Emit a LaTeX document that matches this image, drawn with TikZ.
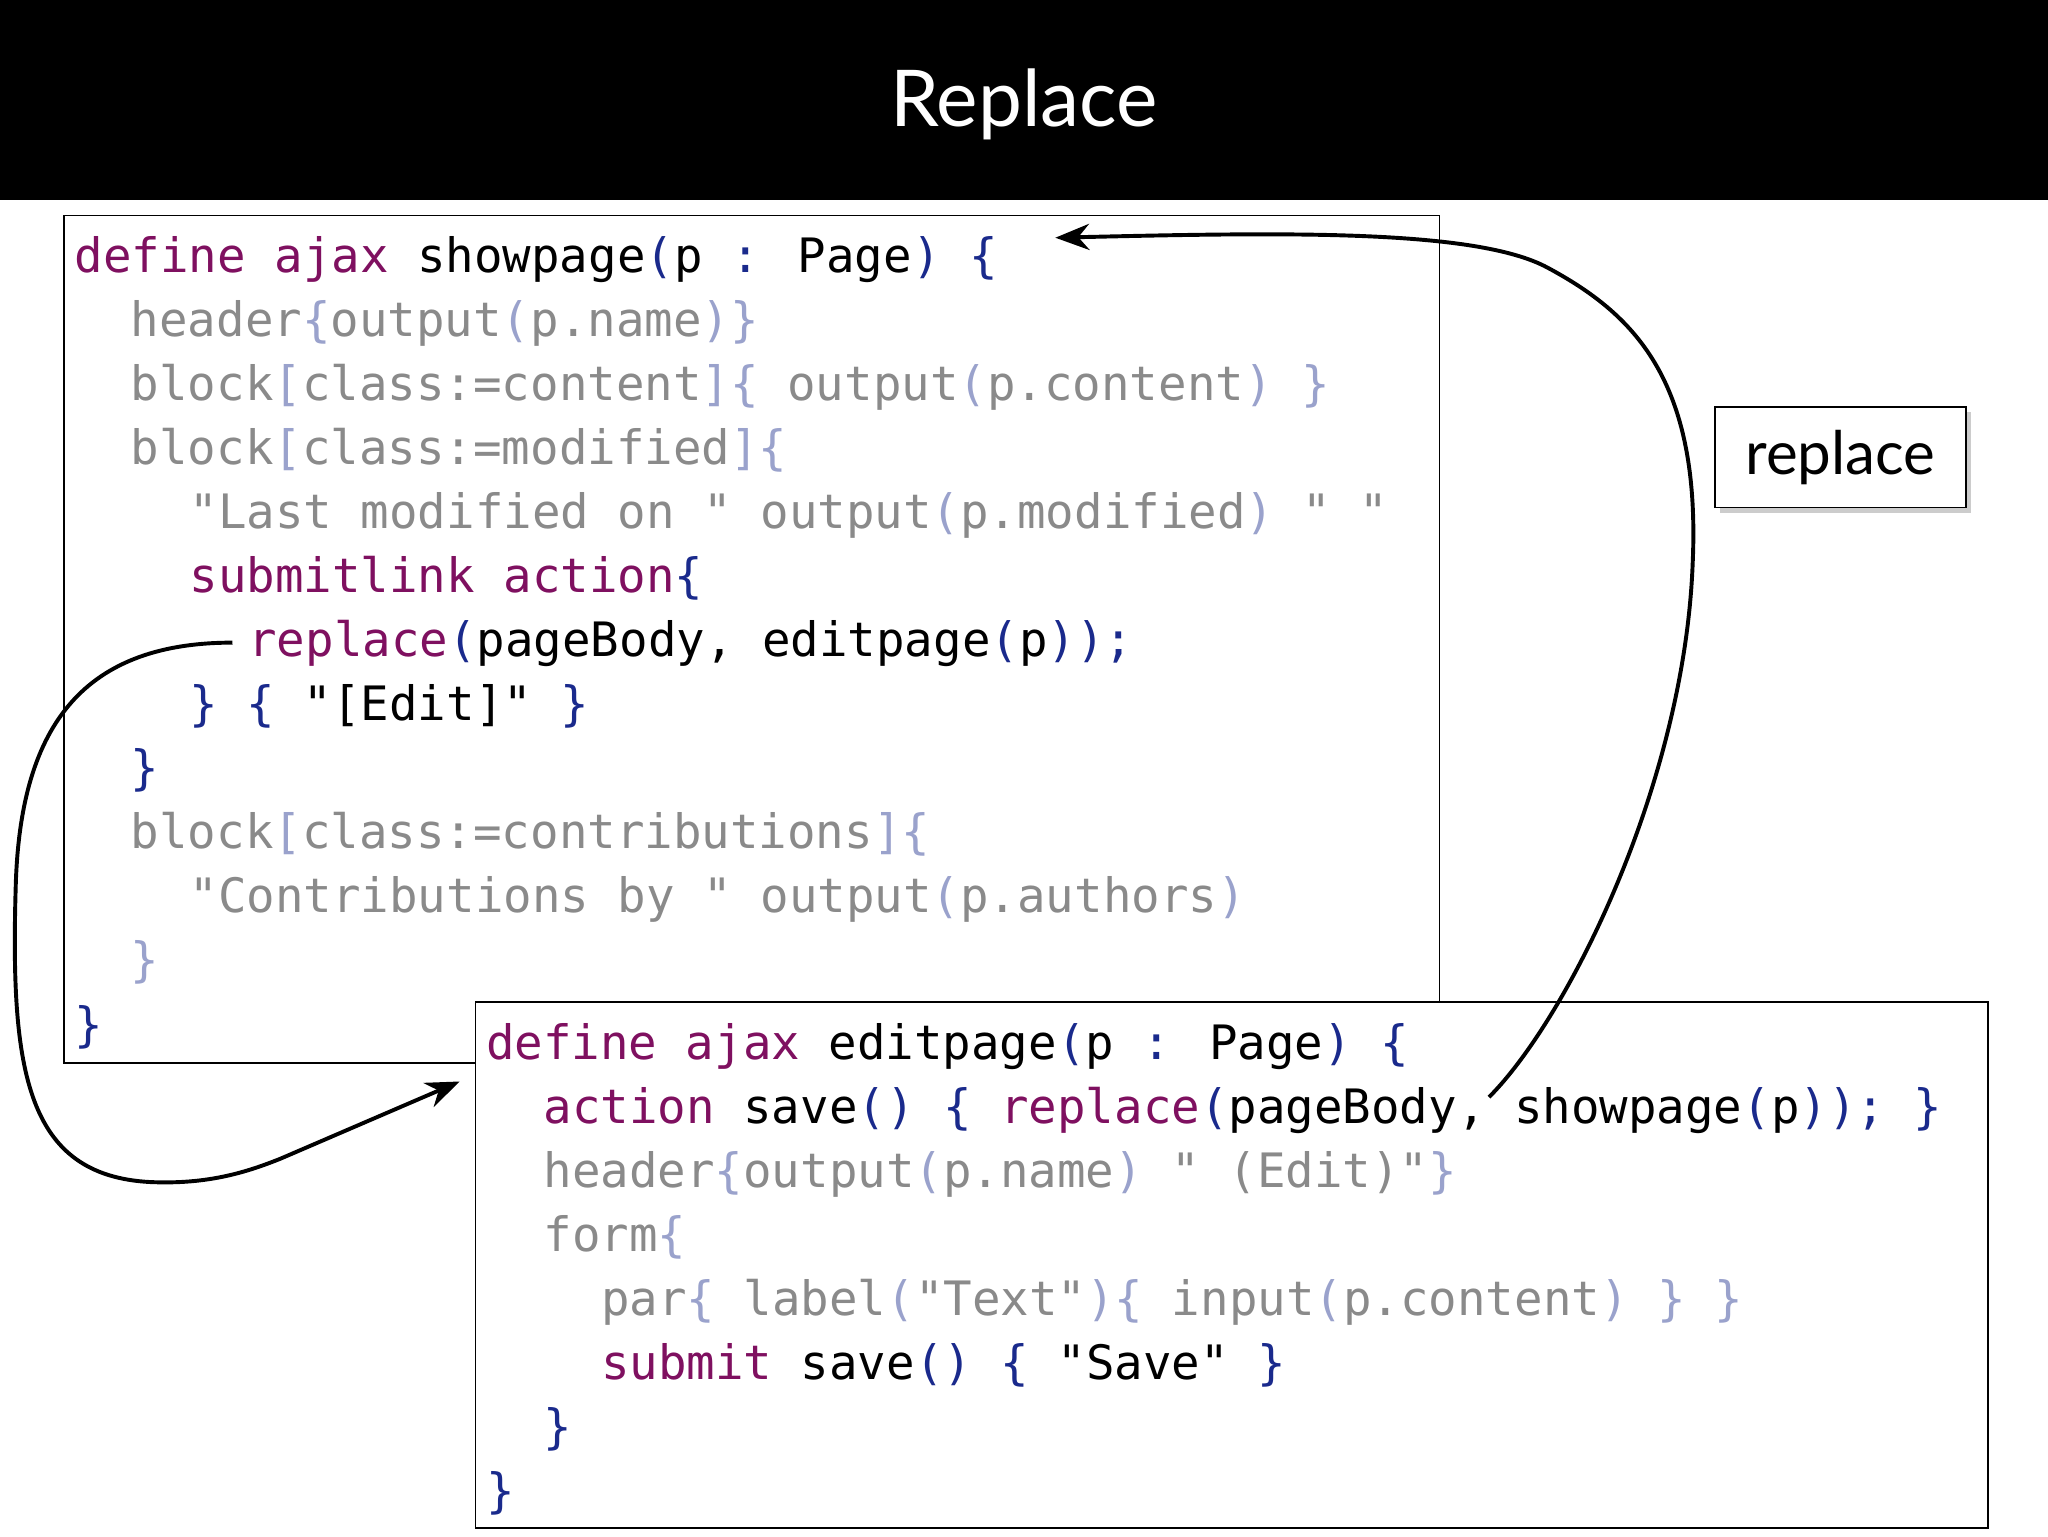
\documentclass[tikz,border=0pt]{standalone}
\usepackage{fontspec}
\setmainfont{Lato}
\newfontfamily\codefont{DejaVu Sans Mono}
\usetikzlibrary{arrows.meta,shadows}
\definecolor{kwc}{HTML}{7F1060}
\definecolor{dbc}{HTML}{1A2A8C}
\definecolor{grc}{HTML}{8A8A8A}
\definecolor{lbc}{HTML}{9AA2CC}
\newcommand{\kw}[1]{\textcolor{kwc}{#1}}
\newcommand{\db}[1]{\textcolor{dbc}{#1}}
\newcommand{\gr}[1]{\textcolor{grc}{#1}}
\newcommand{\lb}[1]{\textcolor{lbc}{#1}}
\tikzset{code/.style={anchor=west,inner sep=0pt,yshift=-4pt,font=\codefont\fontsize{36.3}{40}\selectfont,text height=26pt,text depth=8pt},
 box/.style={draw=black,line width=1.2pt,fill=white},
 conn/.style={line width=3pt,-{Stealth[length=26pt,width=20pt]}}}
\begin{document}
\begin{tikzpicture}[x=1pt,y=-1pt]
\useasboundingbox (0,0) rectangle (1568,1176);
\fill[black] (0,0) rectangle (1568,153);
\node[white,font=\fontsize{60}{70}\selectfont] (title) at (784,80) {Replace};
\draw[box] (49,165) rectangle (1102,814);
\node[code] (a1) at (57,196) {\kw{define ajax} showpage\db{(}p \db{:} Page\db{)} \db{\{}};
\node[code] (a2) at (100,245) {\gr{header}\lb{\{}\gr{output}\lb{(}\gr{p.name}\lb{)\}}};
\node[code] (a3) at (100,294) {\gr{block}\lb{[}\gr{class:=content}\lb{]\{} \gr{output}\lb{(}\gr{p.content}\lb{)} \lb{\}}};
\node[code] (a4) at (100,343) {\gr{block}\lb{[}\gr{class:=modified}\lb{]\{}};
\node[code] (a5) at (145,392) {\gr{"Last modified on " output}\lb{(}\gr{p.modified}\lb{)} \gr{" "}};
\node[code] (a6) at (145,441) {\kw{submitlink action}\db{\{}};
\node[code] (a7) at (190,490) {\kw{replace}\db{(}pageBody, editpage\db{(}p\db{));}};
\node[code] (a8) at (145,539) {\db{\}} \db{\{} "[Edit]" \db{\}}};
\node[code] (a9) at (100,588) {\db{\}}};
\node[code] (a10) at (100,637) {\gr{block}\lb{[}\gr{class:=contributions}\lb{]\{}};
\node[code] (a11) at (145,686) {\gr{"Contributions by " output}\lb{(}\gr{p.authors}\lb{)}};
\node[code] (a12) at (100,735) {\lb{\}}};
\node[code] (a13) at (57,784) {\db{\}}};
\draw[box] (364,767) rectangle (1522,1170);
\node[code] (b1) at (372,798) {\kw{define ajax} editpage\db{(}p \db{:} Page\db{)} \db{\{}};
\node[code] (b2) at (416,847) {\kw{action} save\db{()} \db{\{} \kw{replace}\db{(}pageBody, showpage\db{(}p\db{));} \db{\}}};
\node[code] (b3) at (416,896) {\gr{header}\lb{\{}\gr{output}\lb{(}\gr{p.name}\lb{)} \gr{" (Edit)"}\lb{\}}};
\node[code] (b4) at (416,945) {\gr{form}\lb{\{}};
\node[code] (b5) at (460,994) {\gr{par}\lb{\{} \gr{label}\lb{(}\gr{"Text"}\lb{)\{} \gr{input}\lb{(}\gr{p.content}\lb{)} \lb{\}} \lb{\}}};
\node[code] (b6) at (460,1043) {\kw{submit} save\db{()} \db{\{} "Save" \db{\}}};
\node[code] (b7) at (416,1092) {\db{\}}};
\node[code] (b8) at (372,1141) {\db{\}}};
\node[draw=black,line width=1.2pt,fill=white,drop shadow={shadow xshift=4pt,shadow yshift=-4pt,opacity=0.4},minimum width=192pt,minimum height=77pt,font=\fontsize{46}{50}\selectfont] (rep) at (1409,350) {replace};
\coordinate (s1) at (178,492);
\coordinate (e1) at (352,828);
\coordinate (s2) at (1140,840);
\coordinate (e2) at (808,182);
\draw[conn] (s1) .. controls (60,492) and (15,560) .. (12,680)
  .. controls (8,820) and (20,900) .. (115,905)
  .. controls (160,907) and (190,897) .. (215,887) -- (e1);
\draw[conn] (s2) .. controls (1200,780) and (1290,600) .. (1296,430)
  .. controls (1302,290) and (1250,240) .. (1185,205)
  .. controls (1130,175) and (980,178) .. (e2);
\end{tikzpicture}
\end{document}
